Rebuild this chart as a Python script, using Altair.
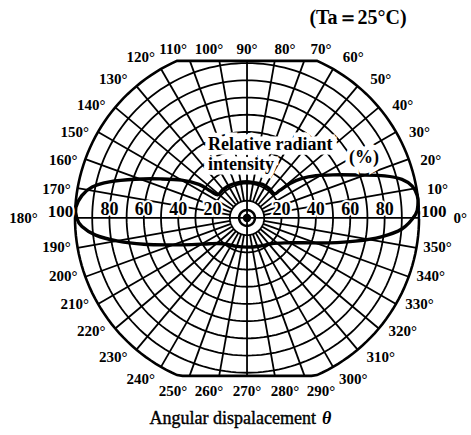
import altair as alt
import pandas as pd

# Relative radiant intensity (%) traced around the emitter, in path order
pattern_angle = [4.7, 7.5, 10.9, 14, 17, 21, 26.6, 31.5, 35.7, 38.7,
                 40.1, 41.2, 52.6, 65.2, 78.9, 90, 103.7, 117.8, 130.3, 141.5,
                 143.6, 145.1, 149.9, 155.6, 160.9, 165.3, 168.7, 172.3, 176.5, 180,
                 183, 186.5, 190.2, 194.3, 199.2, 205.8, 214.3, 227, 250, 270,
                 293, 313, 326.6, 336.3, 343.2, 347.9, 352, 355.9, 1.2]
pattern_value = [99.7, 99.8, 97.8, 92.8, 83.7, 69.6, 55.9, 46.9, 39.4, 32,
                 24.8, 21.3, 21.4, 21.5, 20.9, 21, 21.1, 21.5, 21.6, 21.7,
                 26.1, 34.1, 43.9, 54.9, 68.8, 82.7, 91.8, 96.9, 99.7, 99,
                 96.1, 88.6, 76.2, 61.9, 47.7, 35.6, 26.6, 20.5, 17.6, 17,
                 17.9, 20.5, 26.3, 36, 50.1, 64.4, 78.8, 90.2, 98]

ring_values = [10, 20, 30, 40, 50, 60, 70, 80, 90, 100]
spoke_angles = list(range(0, 360, 10))
angle_labels = [f"{a}°" for a in spoke_angles]
scale_values = [20, 40, 60, 80, 100]

SERIF = "Liberation Serif"
TOP_CUT = 91.3      # outer ring is cut flat above and below
BOTTOM_CUT = 91.8
RAD = "PI/180"

xs = alt.Scale(domain=[-143.6, 130.2], nice=False, zero=False)
ys = alt.Scale(domain=[-126.2, 126.7], nice=False, zero=False)


def X(field):
    return alt.X(field, type="quantitative", scale=xs, axis=None)


def Y(field):
    return alt.Y(field, type="quantitative", scale=ys, axis=None)


def PX(field):
    return alt.X(field, type="quantitative", scale=None)


def PY(field):
    return alt.Y(field, type="quantitative", scale=None)


# concentric rings
ring_df = pd.DataFrame([(r, a) for r in ring_values for a in range(0, 361, 2)],
                       columns=["ring", "deg"])
ring_base = alt.Chart(ring_df).transform_calculate(
    x=f"datum.ring*cos(datum.deg*{RAD})",
    y=f"clamp(datum.ring*sin(datum.deg*{RAD}), {-BOTTOM_CUT}, {TOP_CUT})",
)
inner_rings = ring_base.transform_filter("datum.ring < 100").mark_line(
    color="black", strokeWidth=1.8
).encode(x=X("x:Q"), y=Y("y:Q"), detail="ring:N", order="deg:Q")
outer_ring = ring_base.transform_filter("datum.ring == 100").mark_line(
    color="black", strokeWidth=2.6
).encode(x=X("x:Q"), y=Y("y:Q"), detail="ring:N", order="deg:Q")

# spokes every 10 degrees
spoke_df = pd.DataFrame({"deg": spoke_angles})
spokes = alt.Chart(spoke_df).transform_calculate(
    s=f"sin(datum.deg*{RAD})",
    c=f"cos(datum.deg*{RAD})",
).transform_calculate(
    r0="datum.deg % 90 == 0 ? 0 : 10",
    r1=f"datum.s > 1e-9 ? min(100, {TOP_CUT}/datum.s) : (datum.s < -1e-9 ? min(100, {BOTTOM_CUT}/(-datum.s)) : 100)",
).transform_calculate(
    x0="datum.r0*datum.c", y0="datum.r0*datum.s",
    x1="datum.r1*datum.c", y1="datum.r1*datum.s",
).mark_rule(color="black", strokeWidth=1.8).encode(
    x=X("x0:Q"), y=Y("y0:Q"), x2="x1:Q", y2="y1:Q"
)

# emitter symbol at the centre
hub_df = pd.DataFrame({"deg": list(range(0, 361, 10))})
hub_ring = alt.Chart(hub_df).transform_calculate(
    x=f"4.6*cos(datum.deg*{RAD})", y=f"4.6*sin(datum.deg*{RAD})"
).mark_line(color="black", strokeWidth=2.5).encode(
    x=X("x:Q"), y=Y("y:Q"), order="deg:Q"
)
hub_dot = alt.Chart(pd.DataFrame({"x": [0], "y": [0]})).mark_point(
    filled=True, color="black", size=70, opacity=1
).encode(x=X("x:Q"), y=Y("y:Q"))

# radiation pattern
pat_df = pd.DataFrame({"idx": range(len(pattern_angle)),
                       "deg": pattern_angle, "val": pattern_value})
pattern = alt.Chart(pat_df).transform_calculate(
    x=f"datum.val*cos(datum.deg*{RAD})",
    y=f"datum.val*sin(datum.deg*{RAD})",
).mark_line(color="black", strokeWidth=3.4, interpolate="cardinal-closed").encode(
    x=X("x:Q"), y=Y("y:Q"), order="idx:Q"
)

# angle labels around the chart; set slightly toward the horizontal,
# and lined up along the flat top and bottom edges
lab_df = pd.DataFrame({"deg": spoke_angles, "label": angle_labels})
angle_text = alt.Chart(lab_df).transform_calculate(
    off="datum.deg <= 90 ? datum.deg : (datum.deg <= 180 ? 180 - datum.deg : (datum.deg <= 270 ? datum.deg - 180 : 360 - datum.deg))",
    sx="(datum.deg <= 90 || datum.deg >= 270) ? 1 : -1",
    sy="datum.deg <= 180 ? 1 : -1",
    rl="datum.deg == 0 ? 124 : (datum.deg == 180 ? 130 : 112)",
).transform_calculate(
    phi=f"(datum.off - 4*sin(2*datum.off*{RAD}))*{RAD}",
).transform_calculate(
    x="datum.sx*datum.rl*cos(datum.phi)",
    y="clamp(datum.sy*datum.rl*sin(datum.phi), -100.6, 98.3)",
).mark_text(font=SERIF, fontSize=15, fontWeight="bold", color="black").encode(
    x=X("x:Q"), y=Y("y:Q"), text="label:N"
)

# intensity scale along the horizontal axis
scale_df = pd.DataFrame([(v, s) for v in scale_values for s in (-1, 1)],
                        columns=["v", "side"])
scale_base = alt.Chart(scale_df).transform_calculate(
    x="datum.side*(datum.v == 100 ? 108.5 : datum.v)",
    y="datum.v == 100 ? 3.5 : 4.5",
    t="'' + datum.v",
    fs="datum.v == 100 ? 17 : 18",
)
scale_halo = scale_base.mark_text(
    font=SERIF, fontWeight="bold", color="white", stroke="white", strokeWidth=4
).encode(x=X("x:Q"), y=Y("y:Q"), text="t:N",
         size=alt.Size("fs:Q", scale=None, legend=None))
scale_text = scale_base.mark_text(
    font=SERIF, fontWeight="bold", color="black"
).encode(x=X("x:Q"), y=Y("y:Q"), text="t:N",
         size=alt.Size("fs:Q", scale=None, legend=None))

# axis caption inside the plot
cap_df = pd.DataFrame({
    "t": ["Relative radiant", "intensity", "(%)"],
    "px": [208, 208, 349],
    "py": [145, 165, 158],
})
cap_halo = alt.Chart(cap_df).mark_text(
    font=SERIF, fontSize=18, fontWeight="bold", align="left",
    color="white", stroke="white", strokeWidth=9
).encode(x=PX("px:Q"), y=PY("py:Q"), text="t:N")
cap_text = alt.Chart(cap_df).mark_text(
    font=SERIF, fontSize=18, fontWeight="bold", align="left", color="black"
).encode(x=PX("px:Q"), y=PY("py:Q"), text="t:N")

cond_text = alt.Chart(pd.DataFrame({"t": ["(Ta＝25°C)"]})).mark_text(
    font=SERIF, fontSize=20, fontWeight="bold", color="black"
).encode(x=alt.value(358), y=alt.value(18), text="t:N")

x_title = alt.Chart(pd.DataFrame({"t": ["Angular dispalacement"]})).mark_text(
    font=SERIF, fontSize=18, color="black", align="right",
    stroke="black", strokeWidth=0.4
).encode(x=alt.value(316), y=alt.value(419), text="t:N")
x_theta = alt.Chart(pd.DataFrame({"t": ["θ"]})).mark_text(
    font=SERIF, fontSize=18, fontStyle="italic", fontWeight="bold",
    color="black", align="left"
).encode(x=alt.value(322), y=alt.value(419), text="t:N")

chart = alt.layer(
    inner_rings, outer_ring, spokes, hub_ring, hub_dot, pattern,
    scale_halo, scale_text, cap_halo, cap_text, angle_text, cond_text,
    x_title, x_theta,
).properties(
    width=471, height=435, autosize="none", padding=0, background="white"
).configure_view(stroke=None)

chart.save("out.html", embed_options={"renderer": "svg", "actions": False})
